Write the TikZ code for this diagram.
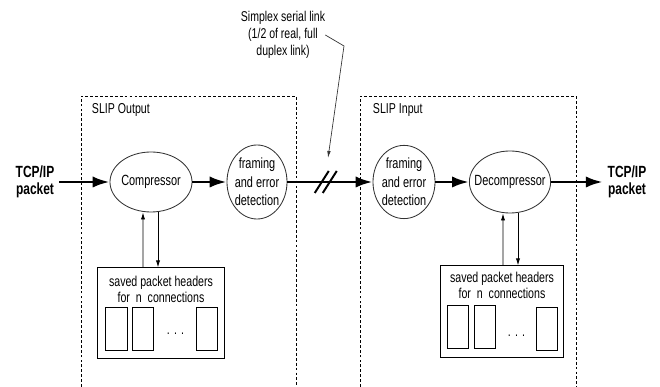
\documentclass[tikz,border=0pt]{standalone}
\usepackage{fontspec}
\setmainfont{Liberation Sans}[FakeStretch=0.74]
\usetikzlibrary{calc}
\usetikzlibrary{positioning}
\usetikzlibrary{shapes,arrows.meta}

\begin{document}
\begin{tikzpicture}[x=0.025cm, y=0.025cm, >={Latex[length=12pt,width=8pt]}, font=\fontsize{10.2}{11}\selectfont]
            % Set primary nodes
            \tikzset{
                packetNode/.style={
                        align=center,
                        font=\fontsize{11.5}{12}\selectfont\bfseries
                    }
            }
            \tikzset{
                procNode/.style={
                        draw=black!80,
                        ellipse,
                        line width=0.6pt,
                        inner sep=0pt
                    }
            }
            \tikzset{
                every label/.style={
                        align=center,
                        font=\fontsize{10.5}{13}\selectfont
                    }
            }
            \tikzset{
                savedNode/.style={
                        draw,
                        rectangle,
                        line width=0.7pt
                    }
            }
            \tikzset{
                slotNode/.style={
                        draw,
                        rectangle,
                        line width=0.7pt,
                        minimum width=0.525cm,
                        minimum height=1.075cm,
                        inner sep=0pt
                    }
            }
            \tikzset{
                slipBox/.style={
                        dash pattern=on 2pt off 1.5pt,
                        line width=0.5pt
                    }
            }
            % Configure arrows
            \tikzstyle{dataArrow} = [line width=2pt, ->]
            \tikzstyle{tableArrow} = [line width=0.6pt, -{Latex[length=5pt,width=3pt]}]
            \tikzstyle{slashLine} = [line width=1.4pt]
            \useasboundingbox (0,0) rectangle (660,387);
            % SLIP boxes
            \draw[slipBox] (81,0) |- (296,291) -- (296,0);
            \draw[slipBox] (360,0) |- (576,291) -- (576,0);
            % Placing nodes
            \node[anchor=west] (outTitle) at (87,277) {SLIP Output};
            \node[anchor=west] (inTitle) at (368,277) {SLIP Input};
            \node[packetNode] (tcpIn) at (35,205) {TCP/IP\\packet};
            \node[procNode, minimum width=2.05cm, minimum height=1.5cm, label={center:Compressor}] (comp) at (151,205) {};
            \node[procNode, minimum width=1.5cm, minimum height=1.85cm, label={center:framing\\and error\\detection}] (frameOut) at (257,205) {};
            \node[procNode, minimum width=1.55cm, minimum height=1.83cm, label={center:framing\\and error\\detection}] (frameIn) at (404,205) {};
            \node[procNode, minimum width=2.03cm, minimum height=1.55cm, label={center:Decompressor}] (decomp) at (510,205) {};
            \node[packetNode] (tcpOut) at (627,205) {TCP/IP\\packet};
            \node[align=center, font=\fontsize{10.1}{12}\selectfont, inner sep=0pt] (simplex) at (283,352) {Simplex serial link\\(1/2 of real, full\\duplex link)};
            % Saved headers, output side
            \node[savedNode, minimum width=3.15cm, minimum height=2.275cm, below = 1.375cm of comp, xshift=0.25cm] (savedOut) {};
            \node[below = 0.1cm of savedOut.north, align=center] (savedOutText) {saved packet headers\\for \ n \ connections};
            \node[slotNode, above right = 0.2cm and 0.2cm of savedOut.south west] (slotOut1) {};
            \node[slotNode, right = 0.125cm of slotOut1] (slotOut2) {};
            \node[slotNode, right = 1.05cm of slotOut2] (slotOut3) {};
            \node[yshift=-0.11cm] (dotsOut) at ($(slotOut2)!0.5!(slotOut3)$) {.\hspace{3pt}.\hspace{3pt}.};
            % Saved headers, input side
            \node[savedNode, minimum width=3.05cm, minimum height=2.3cm, below = 1.3cm of decomp, xshift=-0.2cm] (savedIn) {};
            \node[below = 0.05cm of savedIn.north, align=center] (savedInText) {saved packet headers\\for \ n \ connections};
            \node[slotNode, above right = 0.225cm and 0.175cm of savedIn.south west] (slotIn1) {};
            \node[slotNode, right = 0.125cm of slotIn1] (slotIn2) {};
            \node[slotNode, right = 1cm of slotIn2, yshift=-0.05cm] (slotIn3) {};
            \node[yshift=-0.17cm] (dotsIn) at ($(slotIn2)!0.5!(slotIn3)$) {.\hspace{3pt}.\hspace{3pt}.};
            % Draw arrows
            \draw[dataArrow] (tcpIn) -- (comp);
            \draw[dataArrow] (comp) -- (frameOut);
            \draw[dataArrow] (frameOut) -- (frameIn);
            \draw[dataArrow] (frameIn) -- (decomp);
            \draw[dataArrow] (decomp) -- (tcpOut);
            \coordinate (cut) at ($(frameOut.east)!0.45!(frameIn.west)$);
            \draw[slashLine] ([xshift=-0.1cm]cut) ++(-7,-11) -- ++(14,22);
            \draw[slashLine] ([xshift=0.1cm]cut) ++(-7,-11) -- ++(14,22);
            \coordinate (bend) at (344,341);
            \coordinate (linkTip) at (328,229);
            \draw[line width=0.5pt, draw=black!80, -{Latex[length=5pt,width=2.5pt]}] (simplex.east) -- (bend) -- (linkTip);
            \draw[tableArrow] ([xshift=-0.45cm]savedOut.north) -- ([xshift=-0.2cm]comp.south);
            \draw[tableArrow] ([xshift=0.175cm]comp.south) -- ([xshift=-0.075cm]savedOut.north);
            \draw[tableArrow] ([xshift=0.025cm]savedIn.north) -- ([xshift=-0.175cm]decomp.south);
            \draw[tableArrow] ([xshift=0.2cm]decomp.south) -- ([xshift=0.4cm]savedIn.north);
        \end{tikzpicture}
\end{document}
